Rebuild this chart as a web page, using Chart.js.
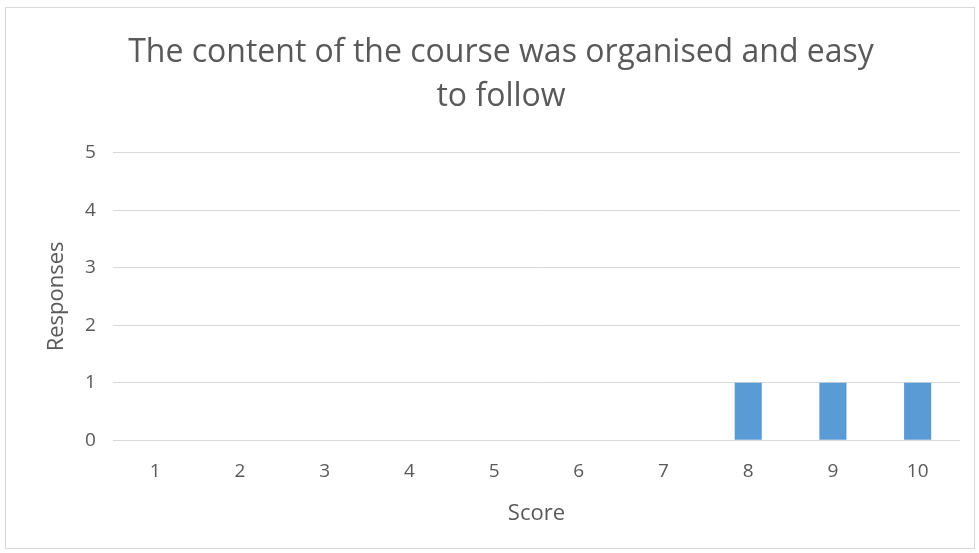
<!DOCTYPE html>
<html>
<head>
<meta charset="utf-8">
<script src="https://cdn.jsdelivr.net/npm/chart.js@4.4.0/dist/chart.umd.min.js"></script>
<style>
  body { margin: 0; background: #fff; }
  #box { position: absolute; left: 5px; top: 7px; width: 968px; height: 540px; border: 1px solid #d9d9d9; background: #fff; }
</style>
</head>
<body>
<div id="box"><canvas id="c"></canvas></div>
<script>
const scores = ['1', '2', '3', '4', '5', '6', '7', '8', '9', '10'];
const responses = [0, 0, 0, 0, 0, 0, 0, 1, 1, 1];
const titleLines = ['The content of the course was organised and easy', 'to follow'];

const textColor = '#595959';
const gridColor = '#d9d9d9';

Chart.defaults.font.family = "'Open Sans', sans-serif";
Chart.defaults.color = textColor;

const ctx = document.getElementById('c');
new Chart(ctx, {
    type: 'bar',
    data: {
        labels: scores,
        datasets: [{
            data: responses,
            backgroundColor: '#5b9bd5',
            categoryPercentage: 1.0,
            barPercentage: 0.32,
        }]
    },
    options: {
        animation: false,
        responsive: true,
        maintainAspectRatio: false,
        layout: {
            padding: { left: 36, right: 14, top: 20, bottom: 19 }
        },
        plugins: {
            legend: { display: false },
            tooltip: { enabled: false },
            title: {
                display: true,
                text: titleLines,
                font: { size: 32, weight: 'normal', lineHeight: 1.4 },
                color: textColor,
                padding: { top: 2, bottom: 33 }
            }
        },
        scales: {
            x: {
                grid: { display: false, drawTicks: false },
                border: { display: false },
                ticks: { font: { size: 19 }, color: textColor, padding: 20 },
                title: { display: true, text: 'Score', font: { size: 22, lineHeight: 1 }, color: textColor, padding: { top: 0, bottom: 4 } }
            },
            y: {
                min: 0,
                max: 5,
                grid: { color: gridColor, lineWidth: 1, drawTicks: false },
                border: { display: false },
                ticks: { stepSize: 1, font: { size: 19 }, color: textColor, padding: 17 },
                title: { display: true, text: 'Responses', font: { size: 22, lineHeight: 1 }, color: textColor, padding: { top: 4, bottom: 0 } }
            }
        }
    }
});
</script>
</body>
</html>
